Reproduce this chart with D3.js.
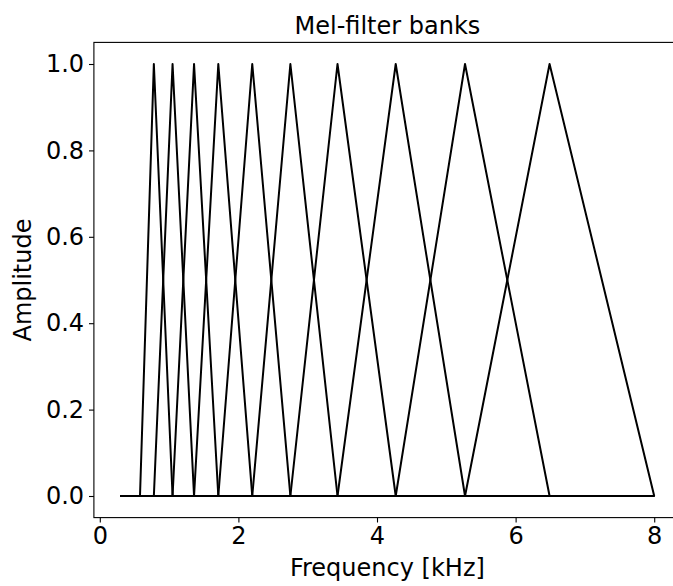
<!DOCTYPE html>
<html>
<head>
<meta charset="utf-8">
<script src="https://cdn.jsdelivr.net/npm/d3@7"></script>
<style>
  html, body { margin: 0; padding: 0; background: #fff; }
  svg text { font-family: "DejaVu Sans", sans-serif; fill: #000; }
</style>
</head>
<body>
<svg id="chart" width="673" height="586"></svg>
<script>
// Frequency grid limits (kHz)
const freqStart = 0.3;
const freqEnd = 8.0;
// Filter edge / centre frequencies (kHz): filter i spans edges[i]..edges[i+2], peak at edges[i+1]
const edges = [0.58, 0.78, 1.05, 1.36, 1.71, 2.20, 2.75, 3.43, 4.27, 5.27, 6.49, 8.0];
const peakAmplitude = 1.0;
const xTicks = [0, 2, 4, 6, 8];
const yTicks = [0.0, 0.2, 0.4, 0.6, 0.8, 1.0];
const titleText = "Mel-filter banks";
const xLabel = "Frequency [kHz]";
const yLabel = "Amplitude";

(function () {
const svg = d3.select("#chart");
const pLeft = 93.9, pRight = 680.9, pTop = 42.4, pBottom = 517.6;

const x = d3.scaleLinear().domain([-0.085, 8.385]).range([pLeft, pRight]);
const y = d3.scaleLinear().domain([-0.05, 1.05]).range([pBottom, pTop]);

// Build filters
const filters = [];
for (let i = 0; i + 2 < edges.length; i++) {
  filters.push([
    [freqStart, 0],
    [edges[i], 0],
    [edges[i + 1], peakAmplitude],
    [edges[i + 2], 0],
    [freqEnd, 0]
  ]);
}

const line = d3.line().x(d => x(d[0])).y(d => y(d[1]));

svg.append("defs").append("clipPath").attr("id", "clip")
  .append("rect").attr("x", pLeft).attr("y", pTop).attr("width", pRight - pLeft).attr("height", pBottom - pTop);

svg.append("g").attr("clip-path", "url(#clip)")
  .selectAll("path").data(filters).join("path")
  .attr("d", line)
  .attr("fill", "none")
  .attr("stroke", "#000")
  .attr("stroke-width", 2)
  .attr("stroke-linejoin", "round");

// Axes
const fontSize = 24;
const xAxis = d3.axisBottom(x).tickValues(xTicks).tickFormat(d3.format("d")).tickSize(4.9).tickPadding(4.9);
const yAxis = d3.axisLeft(y).tickValues(yTicks).tickFormat(d3.format(".1f")).tickSize(4.9).tickPadding(4.9);

const gx = svg.append("g").attr("transform", `translate(0,${pBottom})`).call(xAxis);
const gy = svg.append("g").attr("transform", `translate(${pLeft},0)`).call(yAxis);
[gx, gy].forEach(g => {
  g.select(".domain").remove();
  g.selectAll(".tick line").attr("stroke", "#000").attr("stroke-width", 1.1);
  g.selectAll(".tick text").attr("font-size", fontSize).attr("font-family", "DejaVu Sans").attr("fill", "#000");
});
gx.selectAll(".tick text").attr("dy", "0.71em");

// Spines
svg.append("rect")
  .attr("x", pLeft).attr("y", pTop)
  .attr("width", pRight - pLeft).attr("height", pBottom - pTop)
  .attr("fill", "none").attr("stroke", "#000").attr("stroke-width", 1.1);

// Title and labels
svg.append("text")
  .attr("x", (pLeft + pRight) / 2).attr("y", 34)
  .attr("text-anchor", "middle").attr("font-size", fontSize)
  .text(titleText);

svg.append("text")
  .attr("x", (pLeft + pRight) / 2).attr("y", 576)
  .attr("text-anchor", "middle").attr("font-size", fontSize)
  .text(xLabel);

svg.append("text")
  .attr("transform", `translate(31,${(pTop + pBottom) / 2}) rotate(-90)`)
  .attr("text-anchor", "middle").attr("font-size", fontSize)
  .text(yLabel);
})();
</script>
</body>
</html>
